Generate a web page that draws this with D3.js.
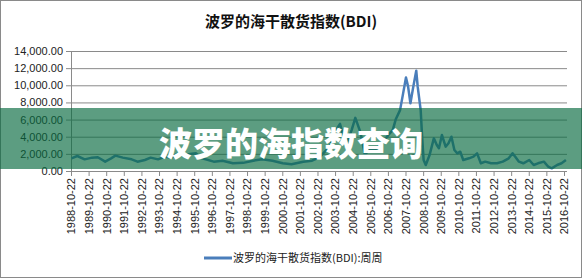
<!DOCTYPE html>
<html>
<head>
<meta charset="utf-8">
<script src="https://cdn.jsdelivr.net/npm/d3@7"></script>
<style>
  body { margin: 0; background: #fff; }
  svg { display: block; font-family: "Liberation Sans", Arial, sans-serif; }
  .cjk { font-family: "Noto Sans CJK SC", "Microsoft YaHei", sans-serif; }
</style>
</head>
<body>
<svg></svg>
<script>
const width = 582;
const height = 278;

const chartTitle = "波罗的海干散货指数(BDI)";
const legendLabel = "波罗的海干散货指数(BDI):周周";
const bannerText = "波罗的海指数查询";

// y axis ticks
const yTicks = [0, 2000, 4000, 6000, 8000, 10000, 12000, 14000];

// x axis labels, one per year
const xLabels = ["1988-10-22", "1989-10-22", "1990-10-22", "1991-10-22", "1992-10-22",
    "1993-10-22", "1994-10-22", "1995-10-22", "1996-10-22", "1997-10-22", "1998-10-22",
    "1999-10-22", "2000-10-22", "2001-10-22", "2002-10-22", "2003-10-22", "2004-10-22",
    "2005-10-22", "2006-10-22", "2007-10-22", "2008-10-22", "2009-10-22", "2010-10-22",
    "2011-10-22", "2012-10-22", "2013-10-22", "2014-10-22", "2015-10-22", "2016-10-22"];

// readings of the BDI line
const dates = ["1988-11-01", "1989-03-01", "1989-08-01", "1990-01-01", "1990-05-01",
    "1990-10-01", "1991-02-01", "1991-05-01", "1991-10-01", "1992-04-01", "1992-08-01",
    "1993-01-01", "1993-05-01", "1993-10-01", "1994-03-01", "1994-07-01", "1994-12-01",
    "1995-04-01", "1995-09-01", "1995-12-01", "1996-04-01", "1996-12-01", "1997-06-01",
    "1998-01-01", "1998-08-01", "1999-03-01", "1999-09-01", "2000-04-01", "2000-11-01",
    "2001-05-01", "2002-01-01", "2002-07-01", "2002-12-01", "2003-07-01", "2003-11-01",
    "2004-02-01", "2004-06-01", "2004-10-01", "2004-12-15", "2005-04-01", "2005-07-01",
    "2005-10-01", "2006-01-01", "2006-04-01", "2006-08-01", "2006-11-01", "2007-02-01",
    "2007-04-01", "2007-07-01", "2007-09-01", "2007-11-01", "2007-12-15", "2008-02-01",
    "2008-04-01", "2008-06-01", "2008-07-01", "2008-09-01", "2008-10-01", "2008-11-01",
    "2008-12-15", "2009-03-01", "2009-06-01", "2009-08-01", "2009-09-15", "2009-11-15",
    "2010-02-01", "2010-04-01", "2010-06-01", "2010-08-01", "2010-10-01", "2010-12-01",
    "2011-02-01", "2011-06-01", "2011-09-01", "2011-11-15", "2012-02-01", "2012-05-01",
    "2012-09-01", "2013-01-01", "2013-05-01", "2013-09-01", "2013-11-20", "2014-01-15",
    "2014-04-01", "2014-07-01", "2014-11-01", "2015-02-01", "2015-05-01", "2015-09-01",
    "2015-12-01", "2016-02-10", "2016-06-01", "2016-09-01", "2016-12-01"];
const bdi = [1480, 1750, 1360, 1560, 1600,
    1090, 1480, 1790, 1560, 1360, 1090,
    1280, 1560, 1360, 1670, 1560, 2060,
    1870, 2000, 2060, 1480, 1090, 1200,
    900, 950, 1200, 1360, 1200, 900,
    780, 1090, 1200, 1600, 2840, 4700,
    5500, 2900, 4800, 6200, 4500, 1900,
    2500, 2400, 2800, 3500, 4200, 4800,
    6000, 7100, 9000, 10900, 9840, 7900,
    9840, 11700, 9840, 7100, 4000, 1280,
    700, 1800, 3810, 3030, 2650, 4200,
    2840, 3230, 4000, 2450, 2060, 2250,
    1280, 1480, 1670, 2060, 900, 1090,
    900, 900, 1090, 1480, 2060, 1670,
    1090, 900, 1280, 700, 900, 1090,
    500, 310, 700, 900, 1280];

const parse = d3.timeParse("%Y-%m-%d");
const series = dates.map((d, i) => ({ date: parse(d), value: bdi[i] }));

const margin = { left: 71, right: 15, top: 51, bottom: 107 };
const plotRight = 567;

const svg = d3.select("svg")
    .attr("width", width)
    .attr("height", height);

svg.append("rect")
    .attr("x", 0.5).attr("y", 0.5)
    .attr("width", width - 1).attr("height", height - 1)
    .attr("fill", "#fff")
    .attr("stroke", "#8a8a8a");

const x = d3.scaleTime()
    .domain([parse(xLabels[0]), parse(xLabels[xLabels.length - 1])])
    .range([margin.left, 564]);

const y = d3.scaleLinear()
    .domain([0, 14000])
    .range([height - margin.bottom, margin.top]);

// title
svg.append("text")
    .attr("class", "cjk")
    .attr("x", 291)
    .attr("y", 27)
    .attr("text-anchor", "middle")
    .attr("font-size", 15)
    .attr("font-weight", "bold")
    .attr("fill", "#111")
    .text(chartTitle);

// gridlines + y labels
const yAxis = svg.append("g")
    .attr("transform", `translate(${margin.left},0)`)
    .call(d3.axisLeft(y)
        .tickValues(yTicks)
        .tickSize(-(plotRight - margin.left))
        .tickSizeOuter(0)
        .tickPadding(8)
        .tickFormat(d3.format(",.2f")));
yAxis.select(".domain").attr("stroke", "#8a8a8a");
yAxis.selectAll(".tick line")
    .attr("x1", -5)
    .attr("stroke", "#8a8a8a");
yAxis.selectAll(".tick text")
    .attr("font-size", 11)
    .attr("fill", "#222")
    .attr("font-family", "Liberation Sans, Arial, sans-serif");

// x axis
const xAxis = svg.append("g")
    .attr("transform", `translate(0,${y(0)})`)
    .call(d3.axisBottom(x)
        .tickValues(xLabels.map(parse))
        .tickSize(5)
        .tickSizeOuter(0)
        .tickFormat(d3.timeFormat("%Y-%m-%d")));
xAxis.select(".domain")
    .attr("d", `M${margin.left},0.5H${plotRight}`)
    .attr("stroke", "#8a8a8a");
xAxis.selectAll(".tick line").attr("stroke", "#8a8a8a");
xAxis.selectAll(".tick text")
    .attr("font-size", 11)
    .attr("fill", "#222")
    .attr("font-family", "Liberation Sans, Arial, sans-serif")
    .attr("text-anchor", "end")
    .attr("transform", "rotate(-90)")
    .attr("x", -7)
    .attr("y", 0)
    .attr("dy", "0.35em");

// the BDI line
const line = d3.line()
    .x(d => x(d.date))
    .y(d => y(d.value));

svg.append("path")
    .datum(series)
    .attr("fill", "none")
    .attr("stroke", "#4a7ebb")
    .attr("stroke-width", 2.5)
    .attr("stroke-linejoin", "round")
    .attr("d", line);

// legend
const legend = svg.append("g").attr("transform", "translate(204,258)");
legend.append("line")
    .attr("x1", 0).attr("x2", 28)
    .attr("stroke", "#4a7ebb")
    .attr("stroke-width", 3);
legend.append("text")
    .attr("class", "cjk")
    .attr("x", 29)
    .attr("dy", "0.35em")
    .attr("font-size", 11)
    .attr("fill", "#222")
    .text(legendLabel);

// green banner across the chart
svg.append("rect")
    .attr("x", 0).attr("y", 108)
    .attr("width", width).attr("height", 61)
    .attr("fill", "rgb(8,106,64)")
    .attr("fill-opacity", 0.66);

svg.append("text")
    .attr("class", "cjk")
    .attr("x", 291)
    .attr("y", 156)
    .attr("text-anchor", "middle")
    .attr("font-size", 33)
    .attr("font-weight", 900)
    .attr("fill", "#fff")
    .text(bannerText);
</script>
</body>
</html>
